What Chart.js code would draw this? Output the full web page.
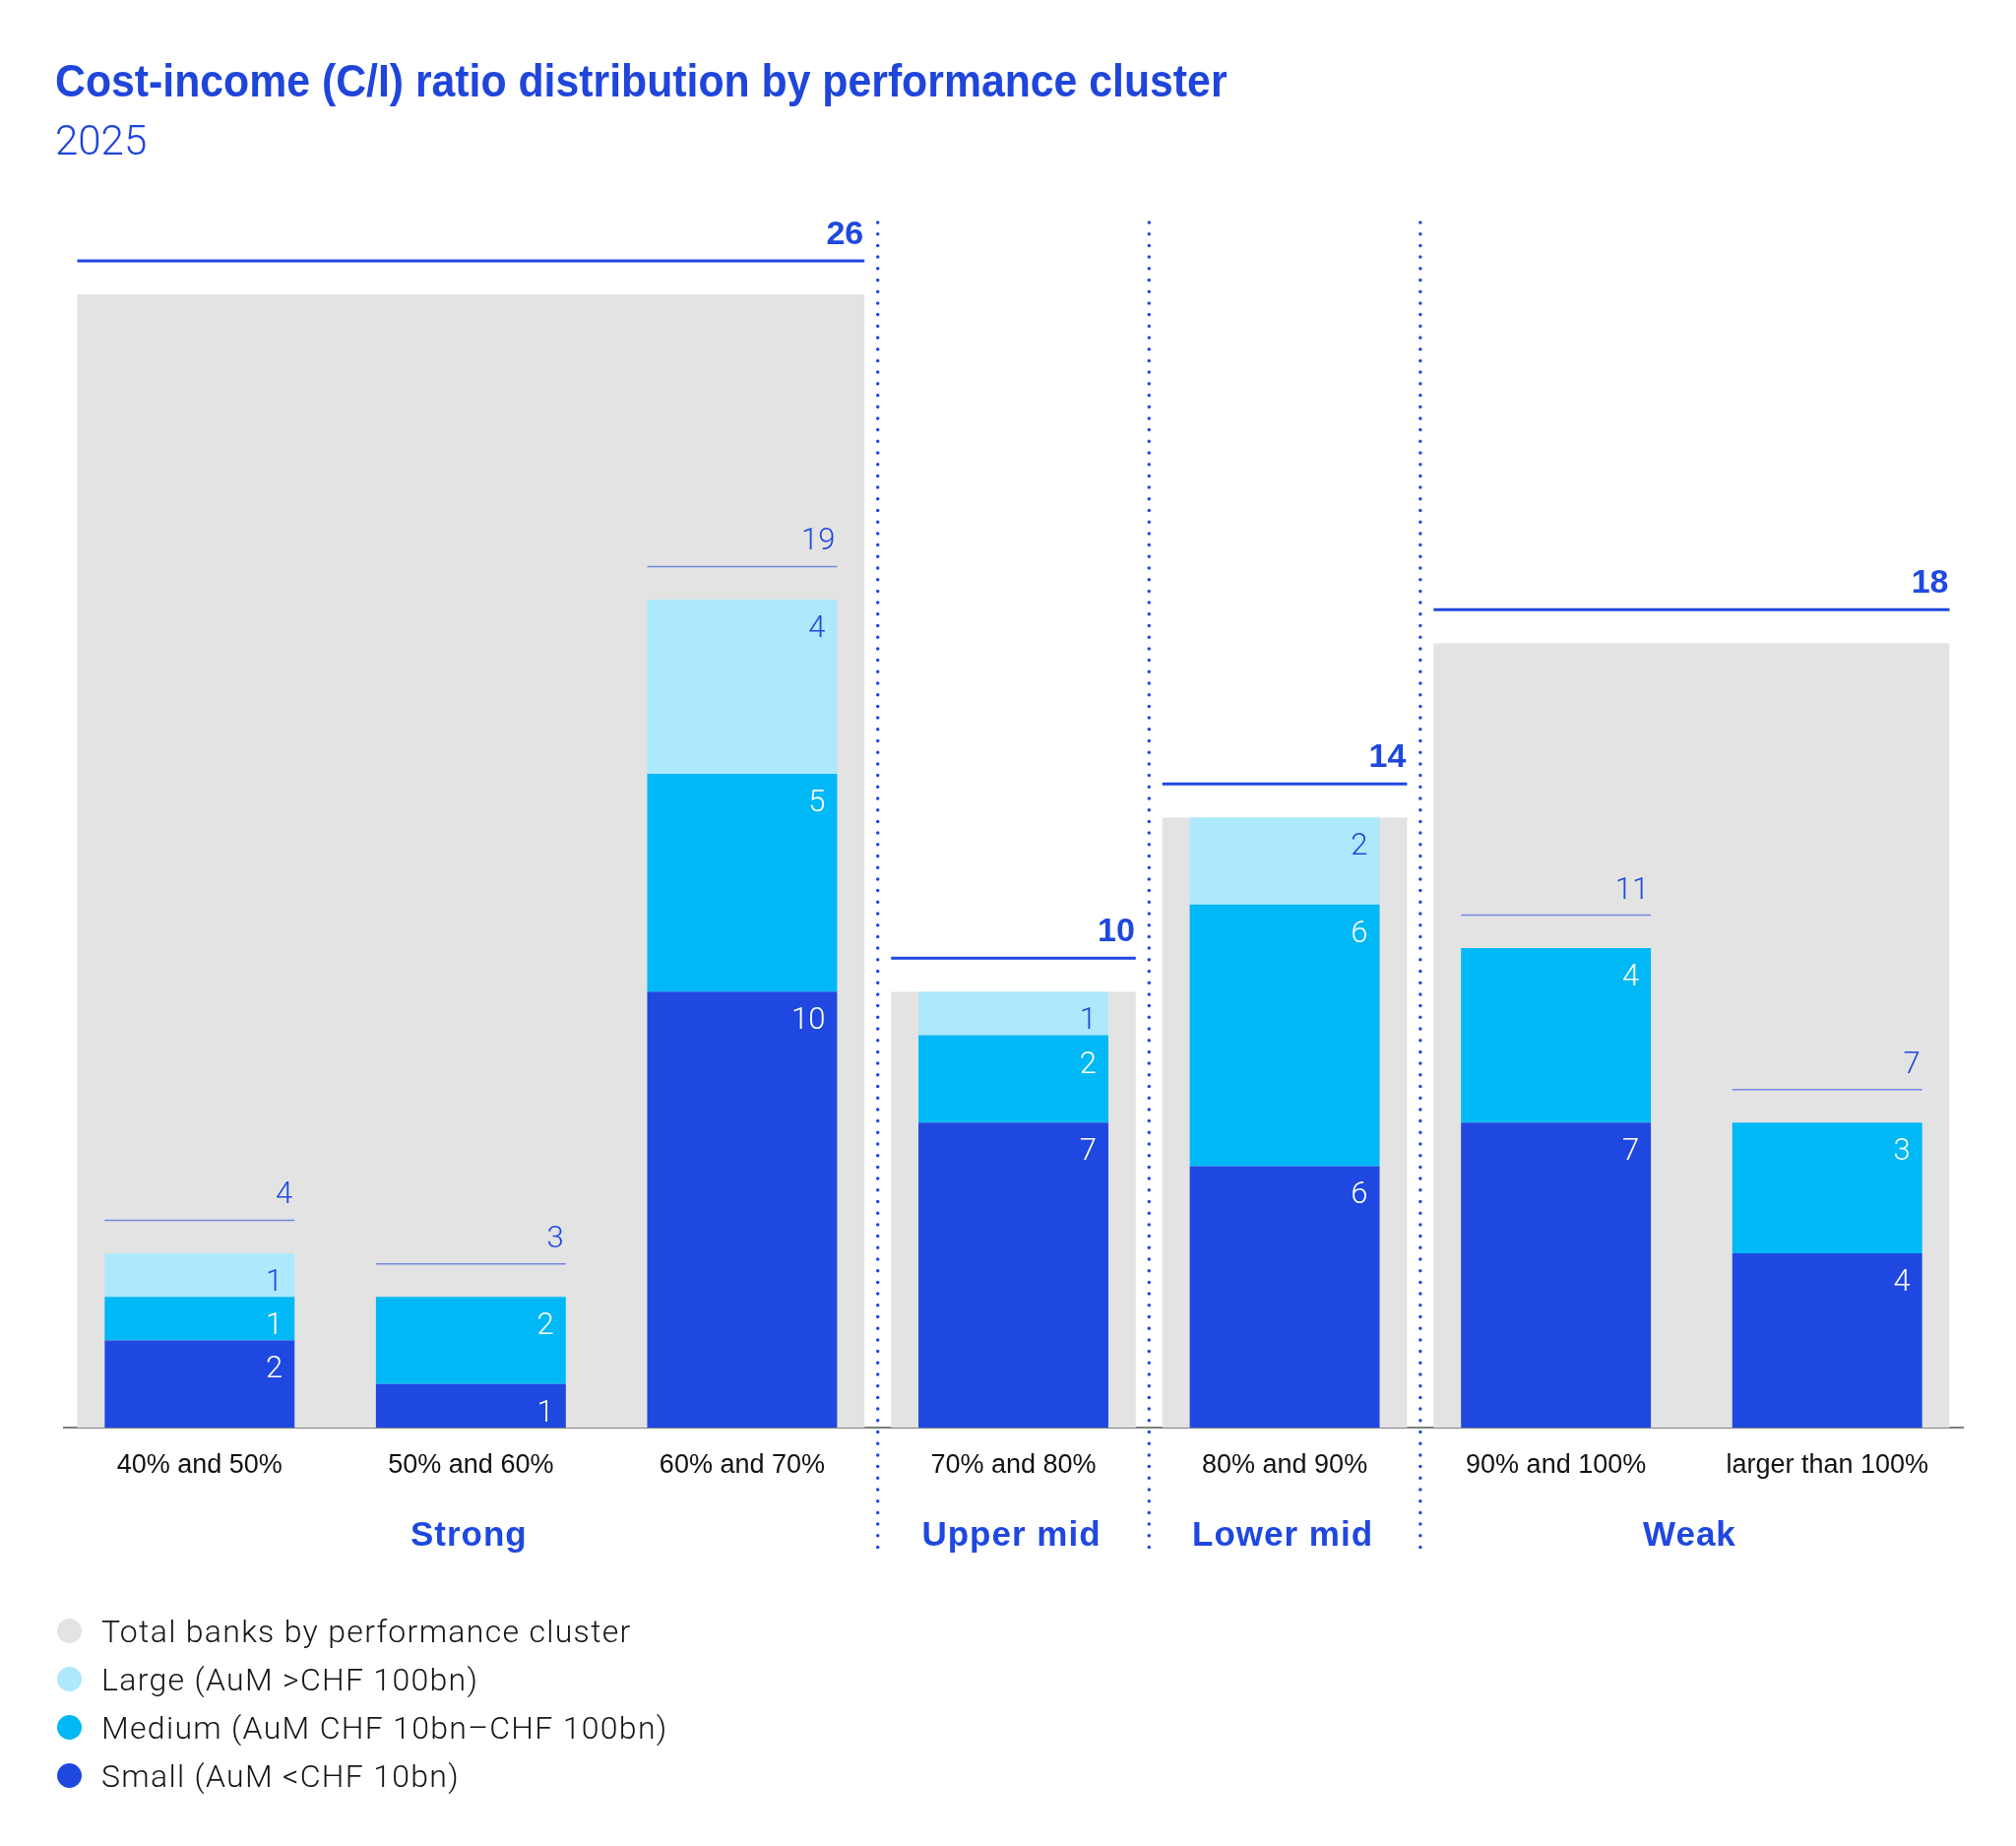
<!DOCTYPE html>
<html>
<head>
<meta charset="utf-8">
<title>Cost-income (C/I) ratio distribution by performance cluster</title>
<script src="https://cdn.jsdelivr.net/npm/chart.js@4.4.1/dist/chart.umd.min.js"></script>
<style>
  html, body { margin: 0; padding: 0; background: #fff; }
  #page { position: relative; width: 2048px; height: 1875px; overflow: hidden; }
  #chart-box { position: absolute; left: 0; top: 0; width: 2048px; height: 1875px; }
  #title { position: absolute; left: 56px; top: 59px; font: bold 46px 'Liberation Sans Narrow', 'Liberation Sans', sans-serif; line-height: 46px; color: #1f45db; white-space: nowrap; transform-origin: 0 0; }
  #subtitle { position: absolute; left: 56px; top: 122px; font: 300 42px Roboto, sans-serif; line-height: 42px; color: #1f45db; }
  #legend { position: absolute; left: 58px; top: 1632px; }
  .item { display: flex; align-items: center; height: 49px; font: 300 32px Roboto, sans-serif; letter-spacing: 1.3px; color: #151515; white-space: nowrap; }
  .dot { width: 25px; height: 25px; border-radius: 50%; margin-right: 20px; flex: none; }
</style>
</head>
<body>
<div id="page">
  <div id="chart-box"><canvas id="ci-chart"></canvas></div>
  <div id="title">Cost-income (C/I) ratio distribution by performance cluster</div>
  <div id="subtitle">2025</div>
  <div id="legend"></div>
</div>
<script>
// data
const categories = ['40% and 50%', '50% and 60%', '60% and 70%', '70% and 80%', '80% and 90%', '90% and 100%', 'larger than 100%'];
const smallBanks = [2, 1, 10, 7, 6, 7, 4];
const mediumBanks = [1, 2, 5, 2, 6, 4, 3];
const largeBanks = [1, 0, 4, 1, 2, 0, 0];
const categoryTotals = [4, 3, 19, 10, 14, 11, 7];
const clusterNames = ['Strong', 'Upper mid', 'Lower mid', 'Weak'];
const clusterSizes = [3, 1, 1, 2];
const clusterTotals = [26, 10, 14, 18];
const seriesLabels = ['Total banks by performance cluster', 'Large (AuM >CHF 100bn)', 'Medium (AuM CHF 10bn\u2013CHF 100bn)', 'Small (AuM <CHF 10bn)'];

const BLUE = '#1f48e0';
const CYAN = '#00b8f5';
const LIGHT = '#ade8fc';
const GREY = '#e3e3e3';
// grey blocks are drawn 2% wider so neighbours overlap (no seams); the inset keeps a ~27px gap between clusters
const GREY_PCT = 1.02;
const INSET = 13.5 + 275.57 * (GREY_PCT - 1) / 2;

// which cluster each category belongs to
const clusterOf = [];
clusterSizes.forEach((n, c) => { for (let k = 0; k < n; k++) clusterOf.push(c); });
const clusterStart = i => i === 0 || clusterOf[i - 1] !== clusterOf[i];
const clusterEnd = i => i === categories.length - 1 || clusterOf[i + 1] !== clusterOf[i];

// title is set in a condensed face in the original, squeeze it to the same width
const title = document.getElementById('title');
title.style.transform = 'scaleX(' + (1191 / title.offsetWidth) + ')';

// legend
const legend = document.getElementById('legend');
[GREY, LIGHT, CYAN, BLUE].forEach((col, i) => {
    const row = document.createElement('div');
    row.className = 'item';
    row.innerHTML = '<span class="dot" style="background:' + col + '"></span><span></span>';
    row.lastChild.textContent = seriesLabels[i];
    legend.appendChild(row);
});

const annotate = {
    id: 'annotate',
    afterDatasetsDraw(chart) {
        const { ctx, chartArea, scales: { x, y } } = chart;
        ctx.save();
        ctx.textAlign = 'right';
        ctx.textBaseline = 'alphabetic';

        // values inside the segments
        ctx.font = '300 31px Roboto, sans-serif';
        [smallBanks, mediumBanks, largeBanks].forEach((values, d) => {
            ctx.fillStyle = d === 2 ? BLUE : '#fff';
            chart.getDatasetMeta(d).data.forEach((bar, i) => {
                if (!values[i]) return;
                ctx.fillText(String(values[i]), bar.x + bar.width / 2 - 12, bar.y + 38);
            });
        });

        // total per range (only where a cluster holds more than one range)
        const bars = chart.getDatasetMeta(0).data;
        categoryTotals.forEach((t, i) => {
            if (clusterSizes[clusterOf[i]] < 2) return;
            const bar = bars[i];
            const lineY = y.getPixelForValue(t) - 33.5;
            ctx.strokeStyle = '#7389dc';
            ctx.lineWidth = 1.5;
            ctx.beginPath();
            ctx.moveTo(bar.x - bar.width / 2, lineY);
            ctx.lineTo(bar.x + bar.width / 2, lineY);
            ctx.stroke();
            ctx.fillStyle = BLUE;
            ctx.fillText(String(t), bar.x + bar.width / 2 - 2, lineY - 17);
        });

        // total per cluster and cluster names
        const grey = chart.getDatasetMeta(3).data;
        let start = 0;
        clusterSizes.forEach((n, c) => {
            const first = grey[start];
            const last = grey[start + n - 1];
            const left = first.x - first.width / 2 + INSET;
            const right = last.x + last.width / 2 - INSET;
            const lineY = y.getPixelForValue(clusterTotals[c]) - 34;
            ctx.strokeStyle = BLUE;
            ctx.lineWidth = 3;
            ctx.beginPath();
            ctx.moveTo(left, lineY);
            ctx.lineTo(right, lineY);
            ctx.stroke();
            ctx.fillStyle = BLUE;
            ctx.textAlign = 'right';
            ctx.letterSpacing = '0px';
            ctx.font = 'bold 34px "Liberation Sans", Arial, sans-serif';
            ctx.fillText(String(clusterTotals[c]), right - 1, lineY - 17);
            ctx.textAlign = 'center';
            ctx.letterSpacing = '1px';
            ctx.font = 'bold 35px "Liberation Sans", Arial, sans-serif';
            ctx.fillText(clusterNames[c], (left + right) / 2 - 2, chartArea.bottom + 120);
            start += n;
        });
        ctx.letterSpacing = '0px';

        // dotted separators between clusters
        ctx.strokeStyle = BLUE;
        ctx.lineWidth = 3.5;
        ctx.lineCap = 'round';
        ctx.setLineDash([0, 11.7]);
        let end = -1;
        clusterSizes.slice(0, -1).forEach(n => {
            end += n;
            const sx = (x.getPixelForValue(end) + x.getPixelForValue(end + 1)) / 2;
            ctx.beginPath();
            ctx.moveTo(sx, 226);
            ctx.lineTo(sx, chartArea.bottom + 124);
            ctx.stroke();
        });
        ctx.restore();
    }
};

const ctx = document.getElementById('ci-chart').getContext('2d');
new Chart(ctx, {
    type: 'bar',
    data: {
        labels: categories,
        datasets: [
            { label: seriesLabels[3], data: smallBanks, backgroundColor: BLUE, stack: 'banks', order: 1 },
            { label: seriesLabels[2], data: mediumBanks, backgroundColor: CYAN, stack: 'banks', order: 1 },
            { label: seriesLabels[1], data: largeBanks.map(v => v || null), backgroundColor: LIGHT, stack: 'banks', order: 1 },
            {
                label: seriesLabels[0],
                data: categories.map((_, i) => clusterTotals[clusterOf[i]]),
                backgroundColor: GREY,
                stack: 'cluster',
                grouped: false,
                order: 2,
                barPercentage: GREY_PCT,
                categoryPercentage: 1,
                inflateAmount: 0,
                borderColor: 'rgba(0,0,0,0)',
                borderSkipped: false,
                borderWidth: c => ({
                    top: 0,
                    bottom: 0,
                    left: clusterStart(c.dataIndex) ? INSET : 0,
                    right: clusterEnd(c.dataIndex) ? INSET : 0,
                }),
            },
        ],
    },
    options: {
        responsive: true,
        maintainAspectRatio: false,
        animation: false,
        barPercentage: 0.7,
        categoryPercentage: 1,
        layout: { padding: { left: 65, right: 54, top: 122, bottom: 325 } },
        scales: {
            x: {
                stacked: true,
                grid: { display: false, drawTicks: false },
                border: { display: true, color: '#7f7f7f', width: 2 },
                ticks: {
                    padding: 22,
                    maxRotation: 0,
                    autoSkip: false,
                    color: '#111',
                    font: { family: '"Liberation Sans", Arial, sans-serif', size: 27 },
                },
                afterFit: scale => { scale.height = 100; },
            },
            y: {
                stacked: true,
                display: false,
                min: 0,
                max: 30,
            },
        },
        plugins: {
            legend: { display: false },
            tooltip: { enabled: false },
        },
    },
    plugins: [annotate],
});
</script>
</body>
</html>
